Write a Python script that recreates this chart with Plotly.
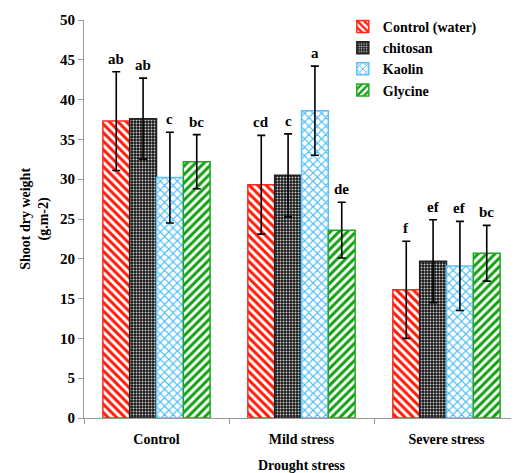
import plotly.graph_objects as go

categories = ["Control", "Mild stress", "Severe stress"]
series_names = ["Control (water)", "chitosan", "Kaolin", "Glycine"]
control_water = [37.3, 29.3, 16.1]
chitosan = [37.6, 30.5, 19.7]
kaolin = [30.2, 38.6, 19.1]
glycine = [32.2, 23.6, 20.7]
err_control_water = [6.2, 6.2, 6.1]
err_chitosan = [5.1, 5.2, 5.2]
err_kaolin = [5.7, 5.6, 5.6]
err_glycine = [3.4, 3.5, 3.5]
letters_control_water = ["ab", "cd", "f"]
letters_chitosan = ["ab", "c", "ef"]
letters_kaolin = ["c", "a", "ef"]
letters_glycine = ["bc", "de", "bc"]

values = [control_water, chitosan, kaolin, glycine]
errors = [err_control_water, err_chitosan, err_kaolin, err_glycine]
letters = [letters_control_water, letters_chitosan, letters_kaolin, letters_glycine]

styles = [
    dict(shape="\\", fg="#ff1a0a", bg="white", line="#ff2a1a", size=6, sol=0.5),
    dict(shape=".", fg="#cccccc", bg="#151515", line="#222222", size=3, sol=0.35),
    dict(shape="x", fg="#40b8f5", bg="white", line="#5bc2f5", size=6, sol=0.35),
    dict(shape="/", fg="#12a012", bg="white", line="#1faa1f", size=6, sol=0.5),
]

ff = "Times New Roman, Liberation Serif, serif"
fig = go.Figure()
for name, vals, errs, st in zip(series_names, values, errors, styles):
    fig.add_trace(go.Bar(
        name="<b>" + name + "</b>", x=categories, y=vals,
        marker=dict(
            color=st["bg"],
            line=dict(color=st["line"], width=1.5),
            pattern=dict(shape=st["shape"], fgcolor=st["fg"], bgcolor=st["bg"],
                         size=st["size"], solidity=st["sol"], fillmode="replace",
                         fgopacity=1),
        ),
        error_y=dict(type="data", array=errs, color="black", thickness=1.6, width=4),
    ))

n = len(series_names)
bargap = 0.26
slot = (1 - bargap) / n
for i in range(n):
    for j, cat in enumerate(categories):
        xpos = j - (1 - bargap) / 2 + slot * (i + 0.5)
        fig.add_annotation(
            x=xpos, y=values[i][j] + errors[i][j], xref="x", yref="y",
            text="<b>" + letters[i][j] + "</b>", showarrow=False, yanchor="bottom", yshift=3,
            font=dict(family=ff, size=15, color="black"),
        )

fig.add_annotation(x=-0.113, y=0.5, xref="paper", yref="paper", xanchor="center", yanchor="middle",
                   text="<b>Shoot dry weight<br>(g.m-2)</b>", textangle=-90, showarrow=False,
                   font=dict(family=ff, size=14, color="black"))
fig.add_annotation(x=0.5, y=0, xref="paper", yref="paper", xanchor="center", yanchor="top",
                   yshift=-38, text="<b>Drought stress</b>", showarrow=False,
                   font=dict(family=ff, size=14, color="black"))

fig.update_layout(
    width=511, height=465,
    margin=dict(l=76, r=0, t=12, b=55),
    barmode="group", bargap=bargap, bargroupgap=0,
    plot_bgcolor="white", paper_bgcolor="white",
    font=dict(family=ff, size=14, color="black"),
    showlegend=True,
    legend=dict(x=0.595, y=1.023, xanchor="left", yanchor="top",
                font=dict(family=ff, size=14),
                tracegroupgap=0, itemwidth=30, bgcolor="rgba(0,0,0,0)"),
    xaxis=dict(type="category", range=[-0.5, 2.5], showline=True, linecolor="#999999",
               linewidth=1, ticks="outside", tickson="boundaries", ticklen=5,
               tickcolor="#999999", showgrid=False, automargin=False,
               ticklabelstandoff=8,
               tickvals=categories, ticktext=["<b>" + c + "</b>" for c in categories],
               tickfont=dict(family=ff, size=14)),
    yaxis=dict(range=[0, 50], dtick=5, showline=True, linecolor="#999999", linewidth=1,
               ticks="outside", ticklen=5, tickcolor="#999999", showgrid=False,
               zeroline=False, automargin=False,
               tickvals=list(range(0, 51, 5)),
               ticktext=["<b>%d</b>" % v for v in range(0, 51, 5)],
               tickfont=dict(family=ff, size=15)),
)

fig.write_html("out.html")
